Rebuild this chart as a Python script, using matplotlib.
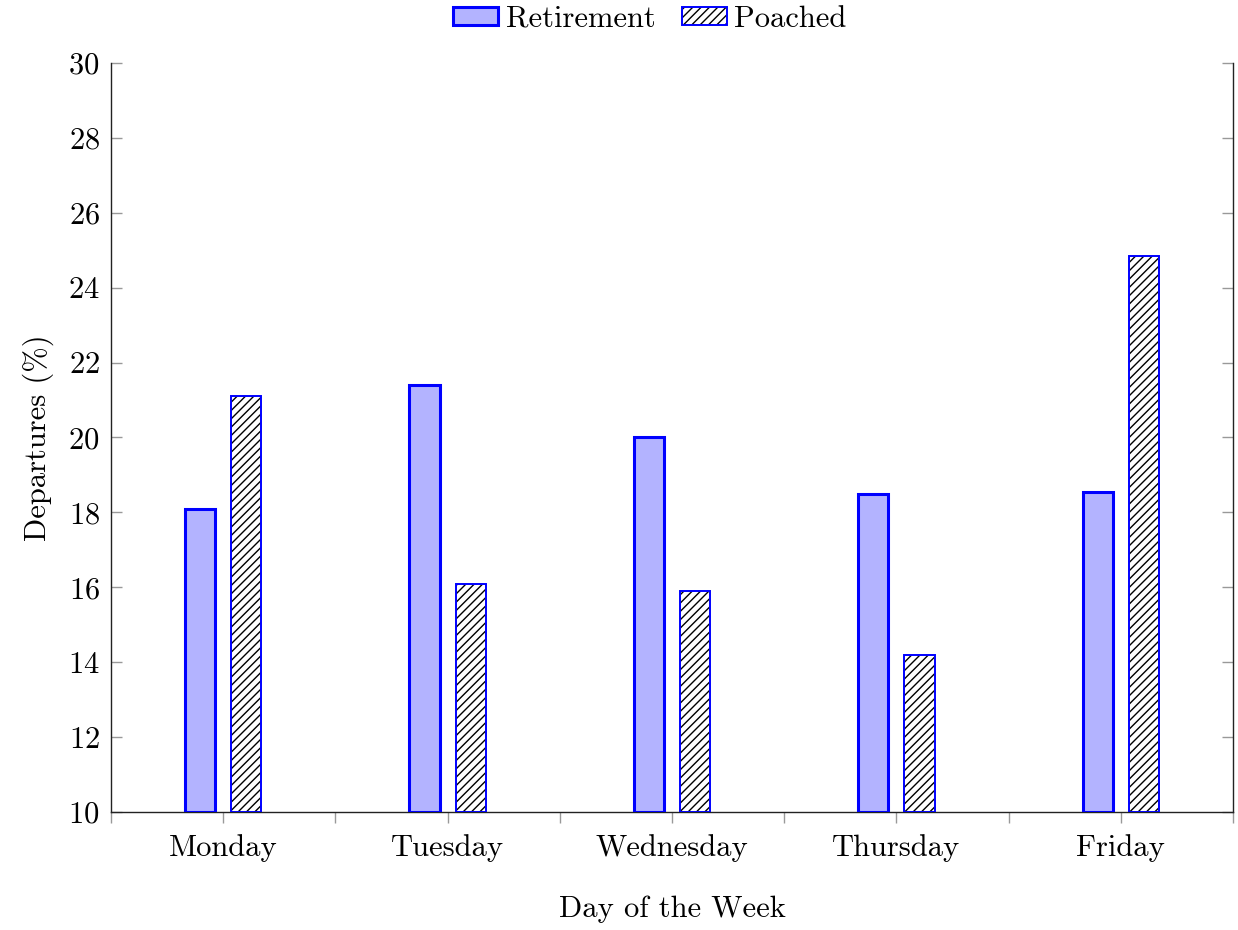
import matplotlib
matplotlib.use("Agg")
import matplotlib.pyplot as plt
import numpy as np
from matplotlib.patches import Rectangle
from matplotlib.legend_handler import HandlerTuple

plt.rcParams["font.family"] = "serif"
plt.rcParams["font.serif"] = ["cmr10", "DejaVu Serif"]
plt.rcParams["axes.formatter.use_mathtext"] = True
plt.rcParams["hatch.linewidth"] = 1.0

days = ["Monday", "Tuesday", "Wednesday", "Thursday", "Friday"]
retirement = [18.1, 21.4, 20.0, 18.5, 18.55]
poached = [21.1, 16.1, 15.9, 14.2, 24.85]
yticks = [10, 12, 14, 16, 18, 20, 22, 24, 26, 28, 30]

blue = "#0000ff"
light = "#b3b3ff"
fs = 22

fig = plt.figure(figsize=(12.38, 9.30), dpi=100)
ax = fig.add_axes([111 / 1238, 1 - 812 / 930, (1233 - 111) / 1238, (812 - 63) / 930])

x = np.arange(len(days))
w = 0.134
off = 0.103

ax.bar(x - off, [v - 10 for v in retirement], w, bottom=10,
       facecolor=light, edgecolor=blue, linewidth=2.2, zorder=3)
ax.bar(x + off, [v - 10 for v in poached], w, bottom=10,
       facecolor="white", edgecolor="black", hatch="////", linewidth=0, zorder=3)
ax.bar(x + off, [v - 10 for v in poached], w, bottom=10,
       facecolor="none", edgecolor=blue, linewidth=1.4, zorder=4)

ax.set_xlim(-0.5, len(days) - 0.5)
ax.set_ylim(10, 30)
ax.set_yticks(yticks)
ax.set_xticks(x)
ax.set_xticklabels(days)
ax.set_xticks(np.arange(-0.5, len(days)), minor=True)

ax.spines["top"].set_visible(False)
for s in ["left", "right", "bottom"]:
    ax.spines[s].set_linewidth(1.0)
    ax.spines[s].set_color("#222222")

ax.tick_params(axis="y", direction="in", left=True, right=True, length=8,
               width=1.0, color="#999999", labelsize=fs, pad=8)
ax.tick_params(axis="x", which="both", direction="out", length=8, width=1.0,
               color="#999999", labelsize=fs, pad=8)

ax.set_xlabel("Day of the Week", fontsize=fs, labelpad=24)
ax.set_ylabel("Departures (%)", fontsize=fs, labelpad=10)

h1 = Rectangle((0, 0), 1, 1, facecolor=light, edgecolor=blue, linewidth=2.2)
h2a = Rectangle((0, 0), 1, 1, facecolor="white", edgecolor="black", hatch="////", linewidth=0)
h2b = Rectangle((0, 0), 1, 1, facecolor="none", edgecolor=blue, linewidth=1.4)
fig.legend([h1, (h2a, h2b)], ["Retirement", "Poached"],
           handler_map={tuple: HandlerTuple(ndivide=1, pad=0)},
           loc="center", bbox_to_anchor=(650 / 1238, 1 - 19 / 930), ncol=2,
           frameon=False, fontsize=fs, handlelength=1.47, handleheight=0.55,
           handletextpad=0.25, columnspacing=0.85, borderaxespad=0)

fig.savefig("out.png", dpi=100)
